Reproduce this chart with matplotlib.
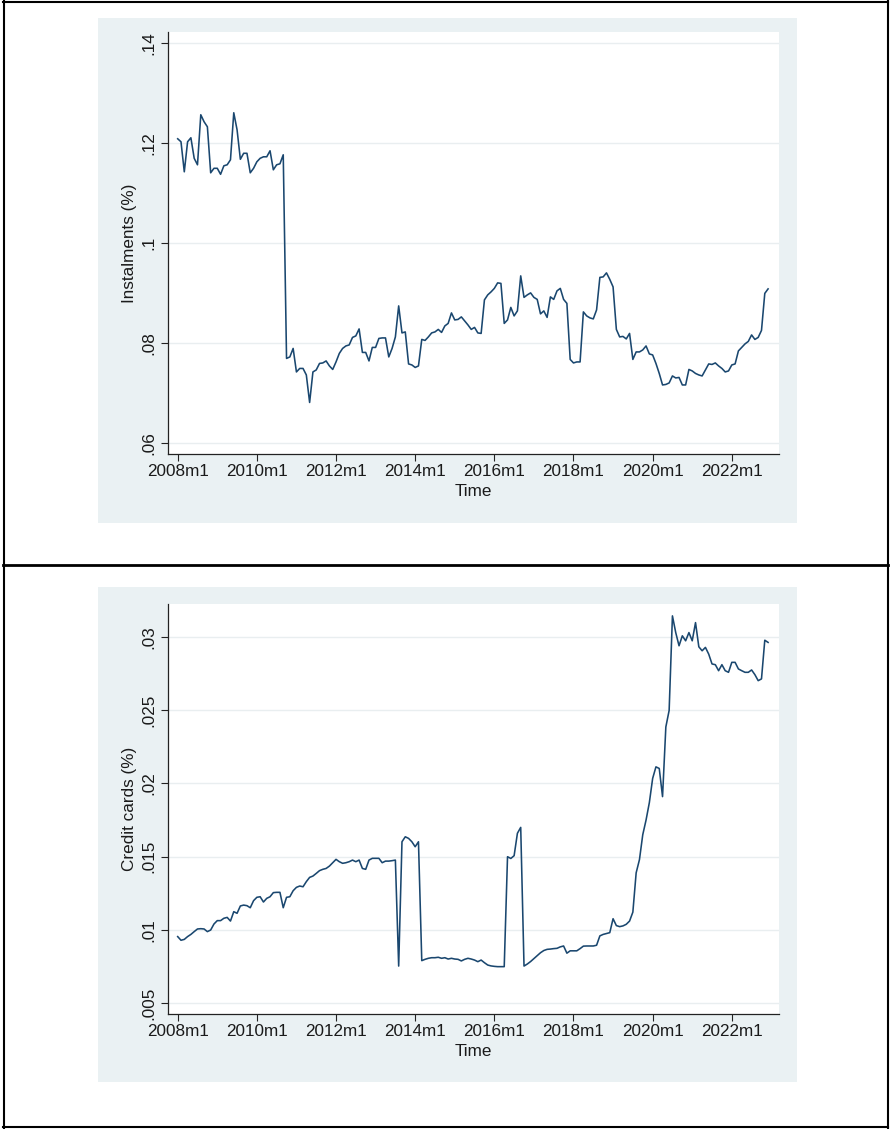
import numpy as np
import matplotlib.pyplot as plt
from matplotlib.patches import Rectangle
from matplotlib.lines import Line2D

plt.rcParams['font.family'] = ['Liberation Sans', 'DejaVu Sans']

# monthly observations, 2008m1 .. 2022m12
instalments = [
    .1209, .1203, .1143, .1203, .1211, .1170, .1157, .1257, .1243, .1233, .1141, .1150,
    .1150, .1138, .1155, .1157, .1167, .1261, .1227, .1168, .1180, .1180, .1141, .1150,
    .1163, .1170, .1173, .1173, .1185, .1147, .1157, .1159, .1177, .0770, .0773, .0790,
    .0743, .0750, .0750, .0737, .0682, .0743, .0747, .0760, .0761, .0765, .0755, .0748,
    .0763, .0780, .0790, .0795, .0797, .0812, .0815, .0829, .0782, .0782, .0765, .0792,
    .0792, .0810, .0811, .0811, .0773, .0790, .0813, .0875, .0821, .0823, .0759, .0757,
    .0752, .0755, .0808, .0806, .0813, .0821, .0823, .0828, .0822, .0835, .0840, .0861,
    .0847, .0848, .0853, .0845, .0837, .0828, .0832, .0821, .0820, .0887, .0897, .0903,
    .0910, .0921, .0920, .0840, .0847, .0872, .0855, .0865, .0935, .0892, .0897, .0901,
    .0892, .0888, .0859, .0865, .0852, .0893, .0888, .0905, .0910, .0888, .0880, .0768,
    .0761, .0763, .0763, .0863, .0855, .0851, .0849, .0867, .0932, .0933, .0941, .0928,
    .0913, .0828, .0813, .0814, .0809, .0820, .0768, .0783, .0783, .0787, .0795, .0779,
    .0777, .0760, .0740, .0717, .0718, .0721, .0735, .0731, .0732, .0717, .0717, .0748,
    .0745, .0740, .0737, .0735, .0747, .0759, .0758, .0761, .0755, .0750, .0743, .0745,
    .0757, .0759, .0785, .0792, .0799, .0804, .0817, .0808, .0812, .0826, .0900, .0909,
]

credit_cards = [
    .00955, .00930, .00936, .00955, .00970, .00989, .01007, .01009, .01007, .00989, .01000, .01041,
    .01064, .01064, .01080, .01086, .01061, .01125, .01114, .01164, .01170, .01166, .01152, .01200,
    .01223, .01227, .01191, .01216, .01227, .01255, .01257, .01257, .01152, .01223, .01227, .01268,
    .01291, .01300, .01295, .01330, .01359, .01368, .01386, .01405, .01414, .01420, .01436, .01459,
    .01482, .01466, .01455, .01459, .01466, .01477, .01466, .01477, .01420, .01414, .01477, .01489,
    .01489, .01489, .01459, .01470, .01470, .01473, .01477, .00754, .01602, .01636, .01625, .01602,
    .01568, .01602, .00791, .00800, .00807, .00811, .00811, .00814, .00807, .00811, .00802, .00807,
    .00802, .00800, .00789, .00800, .00807, .00802, .00795, .00784, .00795, .00777, .00761, .00755,
    .00752, .00750, .00750, .00750, .01500, .01488, .01507, .01660, .01700, .00754, .00768, .00785,
    .00805, .00825, .00845, .00860, .00868, .00870, .00873, .00875, .00885, .00891, .00842, .00858,
    .00858, .00858, .00873, .00890, .00891, .00891, .00891, .00896, .00960, .00970, .00976, .00982,
    .01077, .01030, .01023, .01028, .01039, .01061, .01122, .01390, .01480, .01650, .01750, .01869,
    .02034, .02113, .02102, .01910, .02385, .02498, .03143, .03029, .02939, .03007, .02973, .03029,
    .02973, .03097, .02932, .02905, .02928, .02882, .02815, .02810, .02769, .02810, .02769, .02758,
    .02826, .02826, .02781, .02769, .02758, .02758, .02774, .02742, .02701, .02713, .02977, .02962,
]

tick_years = [2008, 2010, 2012, 2014, 2016, 2018, 2020, 2022]
inst_ticks = [.06, .08, .10, .12, .14]
inst_labels = ['.06', '.08', '.1', '.12', '.14']
cc_ticks = [.005, .01, .015, .02, .025, .03]
cc_labels = ['.005', '.01', '.015', '.02', '.025', '.03']

W, H = 890, 1129
BG = '#eaf1f3'
LINE = '#1a476f'
GRID = '#e9eef0'
FS = 12.3

fig = plt.figure(figsize=(W / 100, H / 100), dpi=100)
fig.patch.set_facecolor('white')


def box(x0, y0, x1, y1):
    return [x0 / W, 1 - y1 / H, (x1 - x0) / W, (y1 - y0) / H]


def panel(bg, ax_box, series, yticks, ylabels, ylim, ylabel):
    fig.patches.append(Rectangle((bg[0] / W, 1 - bg[3] / H), (bg[2] - bg[0]) / W,
                                 (bg[3] - bg[1]) / H, transform=fig.transFigure,
                                 facecolor=BG, edgecolor='none', zorder=-5))
    ax = fig.add_axes(box(*ax_box))
    ax.set_facecolor('white')
    months = np.arange(len(series))
    ax.plot(months, series, color=LINE, lw=1.15, zorder=3)
    ax.set_xlim(-3.03, 182.4)
    ax.set_ylim(*ylim)
    ax.set_xticks([(y - 2008) * 12 for y in tick_years])
    ax.set_xticklabels([f'{y}m1' for y in tick_years], fontsize=FS)
    ax.set_yticks(yticks)
    ax.set_yticklabels(ylabels, fontsize=FS, rotation=90, va='center')
    ax.grid(axis='y', color=GRID, lw=1.0)
    ax.set_axisbelow(True)
    for s in ('top', 'right'):
        ax.spines[s].set_visible(False)
    for s in ('left', 'bottom'):
        ax.spines[s].set_color('#222222')
        ax.spines[s].set_linewidth(0.9)
    ax.tick_params(axis='both', length=5, width=0.8, color='#222222', labelcolor='#1a1a1a')
    ax.tick_params(axis='x', pad=2)
    ax.tick_params(axis='y', pad=3)
    ax.set_xlabel('Time', fontsize=FS, labelpad=4, color='#1a1a1a')
    ax.set_ylabel(ylabel, fontsize=FS, labelpad=3, color='#1a1a1a')
    return ax


panel((98, 18, 797, 523), (167.7, 31.7, 779.3, 454), instalments,
      inst_ticks, inst_labels, (.0579, .1423), 'Instalments (%)')
panel((98, 587, 797, 1082), (167.7, 604, 779.3, 1014), credit_cards,
      cc_ticks, cc_labels, (.00427, .03224), 'Credit cards (%)')

# table frame around the two graphs
for xs, ys, lw in [((3, 888), (1.5, 1.5), 1.5), ((3, 888), (565, 565), 2.0),
                   ((3, 888), (1127, 1127), 1.5), ((3.5, 3.5), (0, 1129), 1.5),
                   ((888, 888), (0, 1129), 1.5)]:
    fig.lines.append(Line2D([x / W for x in xs], [1 - y / H for y in ys],
                            transform=fig.transFigure, color='black', lw=lw))

fig.savefig('out.png', dpi=100)
